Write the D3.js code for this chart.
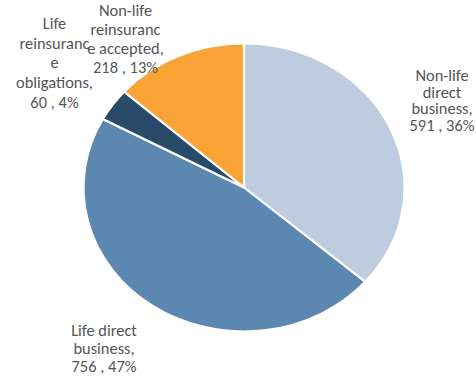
<!DOCTYPE html>
<html>
<head>
<meta charset="utf-8">
<script src="https://cdn.jsdelivr.net/npm/d3@7"></script>
<style>
  html, body { margin: 0; padding: 0; background: #ffffff; }
  svg { display: block; }
  .lbl { font-family: Carlito, Lato, "Liberation Sans", sans-serif; font-size: 15.5px; fill: #555555; }
</style>
</head>
<body>
<svg id="chart" width="476" height="376"></svg>
<script>
// Premium breakdown by line of business
const categories = [
  "Non-life direct business",
  "Life direct business",
  "Life reinsurance obligations",
  "Non-life reinsurance accepted"
];
const values = [591, 756, 60, 218];
const percents = [36, 47, 4, 13];
const colors = ["#BDCDDF", "#5B87B1", "#294B69", "#F9A236"];

// How each category name breaks over lines inside its label
const nameLines = [
  ["Non-life", "direct", "business,"],
  ["Life direct", "business,"],
  ["Life", "reinsuranc", "e", "obligations,"],
  ["Non-life", "reinsuranc", "e accepted,"]
];

// Label anchors: centre x, first baseline y, line step
const labelLayout = [
  { x: 442, y: 81, step: 16.7 },
  { x: 104, y: 336, step: 17.8 },
  { x: 54.5, y: 29, step: 19.7 },
  { x: 125.5, y: 16, step: 18.9 }
];

const svg = d3.select("#chart");
const cx = 244, cy = 187.5, r = 144, sx = 160.5 / 144;

const pie = d3.pie().sort(null).value(d => d.value).startAngle(0).endAngle(2 * Math.PI);
const arc = d3.arc().innerRadius(0).outerRadius(r);

const data = categories.map((c, i) => ({ name: c, value: values[i], pct: percents[i], color: colors[i], i }));

const g = svg.append("g").attr("transform", `translate(${cx},${cy}) scale(${sx},1)`);
g.selectAll("path")
  .data(pie(data))
  .join("path")
  .attr("d", arc)
  .attr("fill", d => d.data.color)
  .attr("stroke", "#ffffff")
  .attr("stroke-width", 2.2)
  .attr("stroke-linejoin", "round")
  .style("vector-effect", "non-scaling-stroke");

// Labels share the chart's horizontal stretch
const labels = svg.append("g");
data.forEach((d, i) => {
  const L = labelLayout[i];
  const lines = nameLines[i].concat([`${d.value} , ${d.pct}%`]);
  const t = labels.append("text")
    .attr("class", "lbl")
    .attr("text-anchor", "middle")
    .attr("transform", `translate(${L.x},0) scale(1.06,1)`);
  lines.forEach((s, k) => {
    t.append("tspan").attr("x", 0).attr("y", L.y + k * L.step).text(s);
  });
});
</script>
</body>
</html>
